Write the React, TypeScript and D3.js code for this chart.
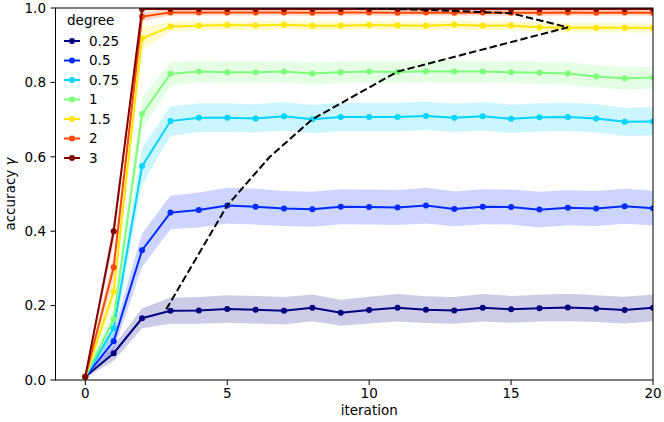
import React from "react";
import * as d3 from "d3";

const iterations = [0, 1, 2, 3, 4, 5, 6, 7, 8, 9, 10, 11, 12, 13, 14, 15, 16, 17, 18, 19, 20];
const degrees = ["0.25", "0.5", "0.75", "1", "1.5", "2", "3"];
const colors = ["#000080", "#002aff", "#00d4ff", "#7dff7a", "#ffe600", "#ff4800", "#800000"];

// mean accuracy per degree
const acc025 = [0.009, 0.072, 0.166, 0.186, 0.187, 0.191, 0.189, 0.186, 0.194, 0.181, 0.188, 0.194, 0.189, 0.187, 0.194, 0.19, 0.193, 0.195, 0.192, 0.188, 0.194];
const acc05 = [0.009, 0.104, 0.349, 0.45, 0.457, 0.469, 0.466, 0.461, 0.459, 0.466, 0.465, 0.464, 0.469, 0.46, 0.466, 0.465, 0.458, 0.463, 0.461, 0.467, 0.462];
const acc075 = [0.009, 0.139, 0.575, 0.696, 0.705, 0.705, 0.703, 0.709, 0.701, 0.707, 0.707, 0.707, 0.71, 0.705, 0.709, 0.702, 0.706, 0.707, 0.703, 0.694, 0.695];
const acc1 = [0.009, 0.164, 0.715, 0.823, 0.829, 0.827, 0.827, 0.829, 0.824, 0.827, 0.829, 0.828, 0.83, 0.829, 0.829, 0.827, 0.826, 0.824, 0.816, 0.811, 0.813];
const acc15 = [0.009, 0.238, 0.918, 0.95, 0.952, 0.954, 0.953, 0.955, 0.952, 0.952, 0.954, 0.953, 0.952, 0.955, 0.952, 0.953, 0.948, 0.947, 0.947, 0.947, 0.946];
const acc2 = [0.009, 0.303, 0.977, 0.988, 0.988, 0.988, 0.988, 0.988, 0.987, 0.988, 0.988, 0.987, 0.988, 0.987, 0.988, 0.987, 0.987, 0.988, 0.987, 0.988, 0.987];
const acc3 = [0.009, 0.4, 0.997, 0.997, 0.997, 0.997, 0.997, 0.997, 0.997, 0.997, 0.997, 0.997, 0.997, 0.997, 0.997, 0.997, 0.997, 0.997, 0.997, 0.997, 0.997];

// spread (half width of the shaded band)
const sd025 = [0.004, 0.02, 0.027, 0.035, 0.036, 0.037, 0.037, 0.037, 0.036, 0.035, 0.036, 0.037, 0.036, 0.036, 0.037, 0.036, 0.036, 0.037, 0.036, 0.036, 0.036];
const sd05 = [0.004, 0.025, 0.045, 0.045, 0.047, 0.048, 0.048, 0.047, 0.047, 0.047, 0.047, 0.047, 0.048, 0.047, 0.047, 0.047, 0.048, 0.047, 0.047, 0.047, 0.047];
const sd075 = [0.004, 0.03, 0.05, 0.04, 0.038, 0.038, 0.038, 0.038, 0.038, 0.038, 0.038, 0.038, 0.038, 0.038, 0.038, 0.038, 0.038, 0.038, 0.038, 0.038, 0.038];
const sd1 = [0.004, 0.03, 0.045, 0.031, 0.03, 0.03, 0.03, 0.03, 0.03, 0.03, 0.03, 0.03, 0.03, 0.03, 0.03, 0.03, 0.03, 0.03, 0.03, 0.03, 0.03];
const sd15 = [0.004, 0.03, 0.03, 0.013, 0.012, 0.012, 0.012, 0.012, 0.012, 0.012, 0.012, 0.012, 0.012, 0.012, 0.012, 0.012, 0.013, 0.013, 0.013, 0.013, 0.013];
const sd2 = [0.004, 0.03, 0.012, 0.008, 0.008, 0.008, 0.008, 0.008, 0.008, 0.008, 0.008, 0.008, 0.008, 0.008, 0.008, 0.008, 0.008, 0.008, 0.008, 0.008, 0.008];
const sd3 = [0.004, 0.03, 0.003, 0.003, 0.003, 0.003, 0.003, 0.003, 0.003, 0.003, 0.003, 0.003, 0.003, 0.003, 0.003, 0.003, 0.003, 0.003, 0.003, 0.003, 0.003];

const means = [acc025, acc05, acc075, acc1, acc15, acc2, acc3];
const spreads = [sd025, sd05, sd075, sd1, sd15, sd2, sd3];

// dashed boundary curve
const boundX = [2.85, 5, 6.5, 8, 11, 17, 15, 12, 9.5];
const boundY = [0.19, 0.469, 0.6, 0.701, 0.829, 0.948, 0.986, 0.995, 1.0];

const xTicks = [0, 5, 10, 15, 20];
const yTicks = [0, 0.2, 0.4, 0.6, 0.8, 1.0];

const W = 664;
const H = 422;
const left = 55.5;
const right = 653;
const top = 8;
const bottom = 380;
const font = "DejaVu Sans, sans-serif";

export default function App() {
  const x = d3.scaleLinear().domain([-1.05, 20]).range([left, right]);
  const y = d3.scaleLinear().domain([0, 1]).range([bottom, top]);

  const line = d3
    .line<number>()
    .x((_, i) => x(iterations[i]))
    .y((d) => y(d));

  const band = (m: number[], s: number[]) =>
    d3
      .area<number>()
      .x((_, i) => x(iterations[i]))
      .y0((d, i) => y(d - s[i]))
      .y1((d, i) => y(d + s[i]))(m) || "";

  const boundLine =
    d3
      .line<number>()
      .x((d) => x(d))
      .y((_, i) => y(boundY[i]))(boundX) || "";

  return (
    <div style={{ position: "absolute", left: 0, top: 0 }}>
      <svg width={W} height={H} style={{ display: "block", background: "#fff" }}>
        <defs>
          <clipPath id="plot">
            <rect x={left} y={top} width={right - left} height={bottom - top} />
          </clipPath>
        </defs>

        <g clipPath="url(#plot)">
          {means.map((m, k) => (
            <path key={"b" + k} d={band(m, spreads[k])} fill={colors[k]} fillOpacity={0.2} stroke="none" />
          ))}
          {means.map((m, k) => (
            <g key={"l" + k}>
              <path d={line(m) || ""} fill="none" stroke={colors[k]} strokeWidth={2} />
              {m.map((v, i) => (
                <circle key={i} cx={x(iterations[i])} cy={y(v)} r={3} fill={colors[k]} />
              ))}
            </g>
          ))}
          <path d={boundLine} fill="none" stroke="#000" strokeWidth={2} strokeDasharray="7.4,3.2" />
        </g>

        {/* spines */}
        <rect x={left} y={top} width={right - left} height={bottom - top} fill="none" stroke="#000" strokeWidth={1} />

        {/* x axis */}
        {xTicks.map((t) => (
          <g key={"x" + t}>
            <line x1={x(t)} x2={x(t)} y1={bottom} y2={bottom + 5} stroke="#000" strokeWidth={1} />
            <text x={x(t)} y={bottom + 18} textAnchor="middle" fontFamily={font} fontSize={13.5} fill="#000">
              {t}
            </text>
          </g>
        ))}
        <text x={(left + right) / 2 + 15} y={415} textAnchor="middle" fontFamily={font} fontSize={13.5} fill="#000">
          iteration
        </text>

        {/* y axis */}
        {yTicks.map((t) => (
          <g key={"y" + t}>
            <line x1={left - 5} x2={left} y1={y(t)} y2={y(t)} stroke="#000" strokeWidth={1} />
            <text x={left - 9.5} y={y(t) + 4.8} textAnchor="end" fontFamily={font} fontSize={13.5} fill="#000">
              {t.toFixed(1)}
            </text>
          </g>
        ))}
        <text
          transform={`translate(15,${(top + bottom) / 2}) rotate(-90)`}
          textAnchor="middle"
          fontFamily={font}
          fontSize={13.5}
          fill="#000"
        >
          accuracy <tspan fontStyle="italic">γ</tspan>
        </text>

        {/* legend */}
        <g fontFamily={font} fontSize={13.5} fill="#000">
          <text x={67} y={25}>degree</text>
          {degrees.map((d, k) => {
            const cy = 41 + k * 19.5;
            return (
              <g key={"g" + d}>
                <line x1={64} x2={80} y1={cy} y2={cy} stroke={colors[k]} strokeWidth={2} />
                <circle cx={72} cy={cy} r={3} fill={colors[k]} />
                <text x={89} y={cy + 4.8}>{d}</text>
              </g>
            );
          })}
        </g>
      </svg>
    </div>
  );
}
